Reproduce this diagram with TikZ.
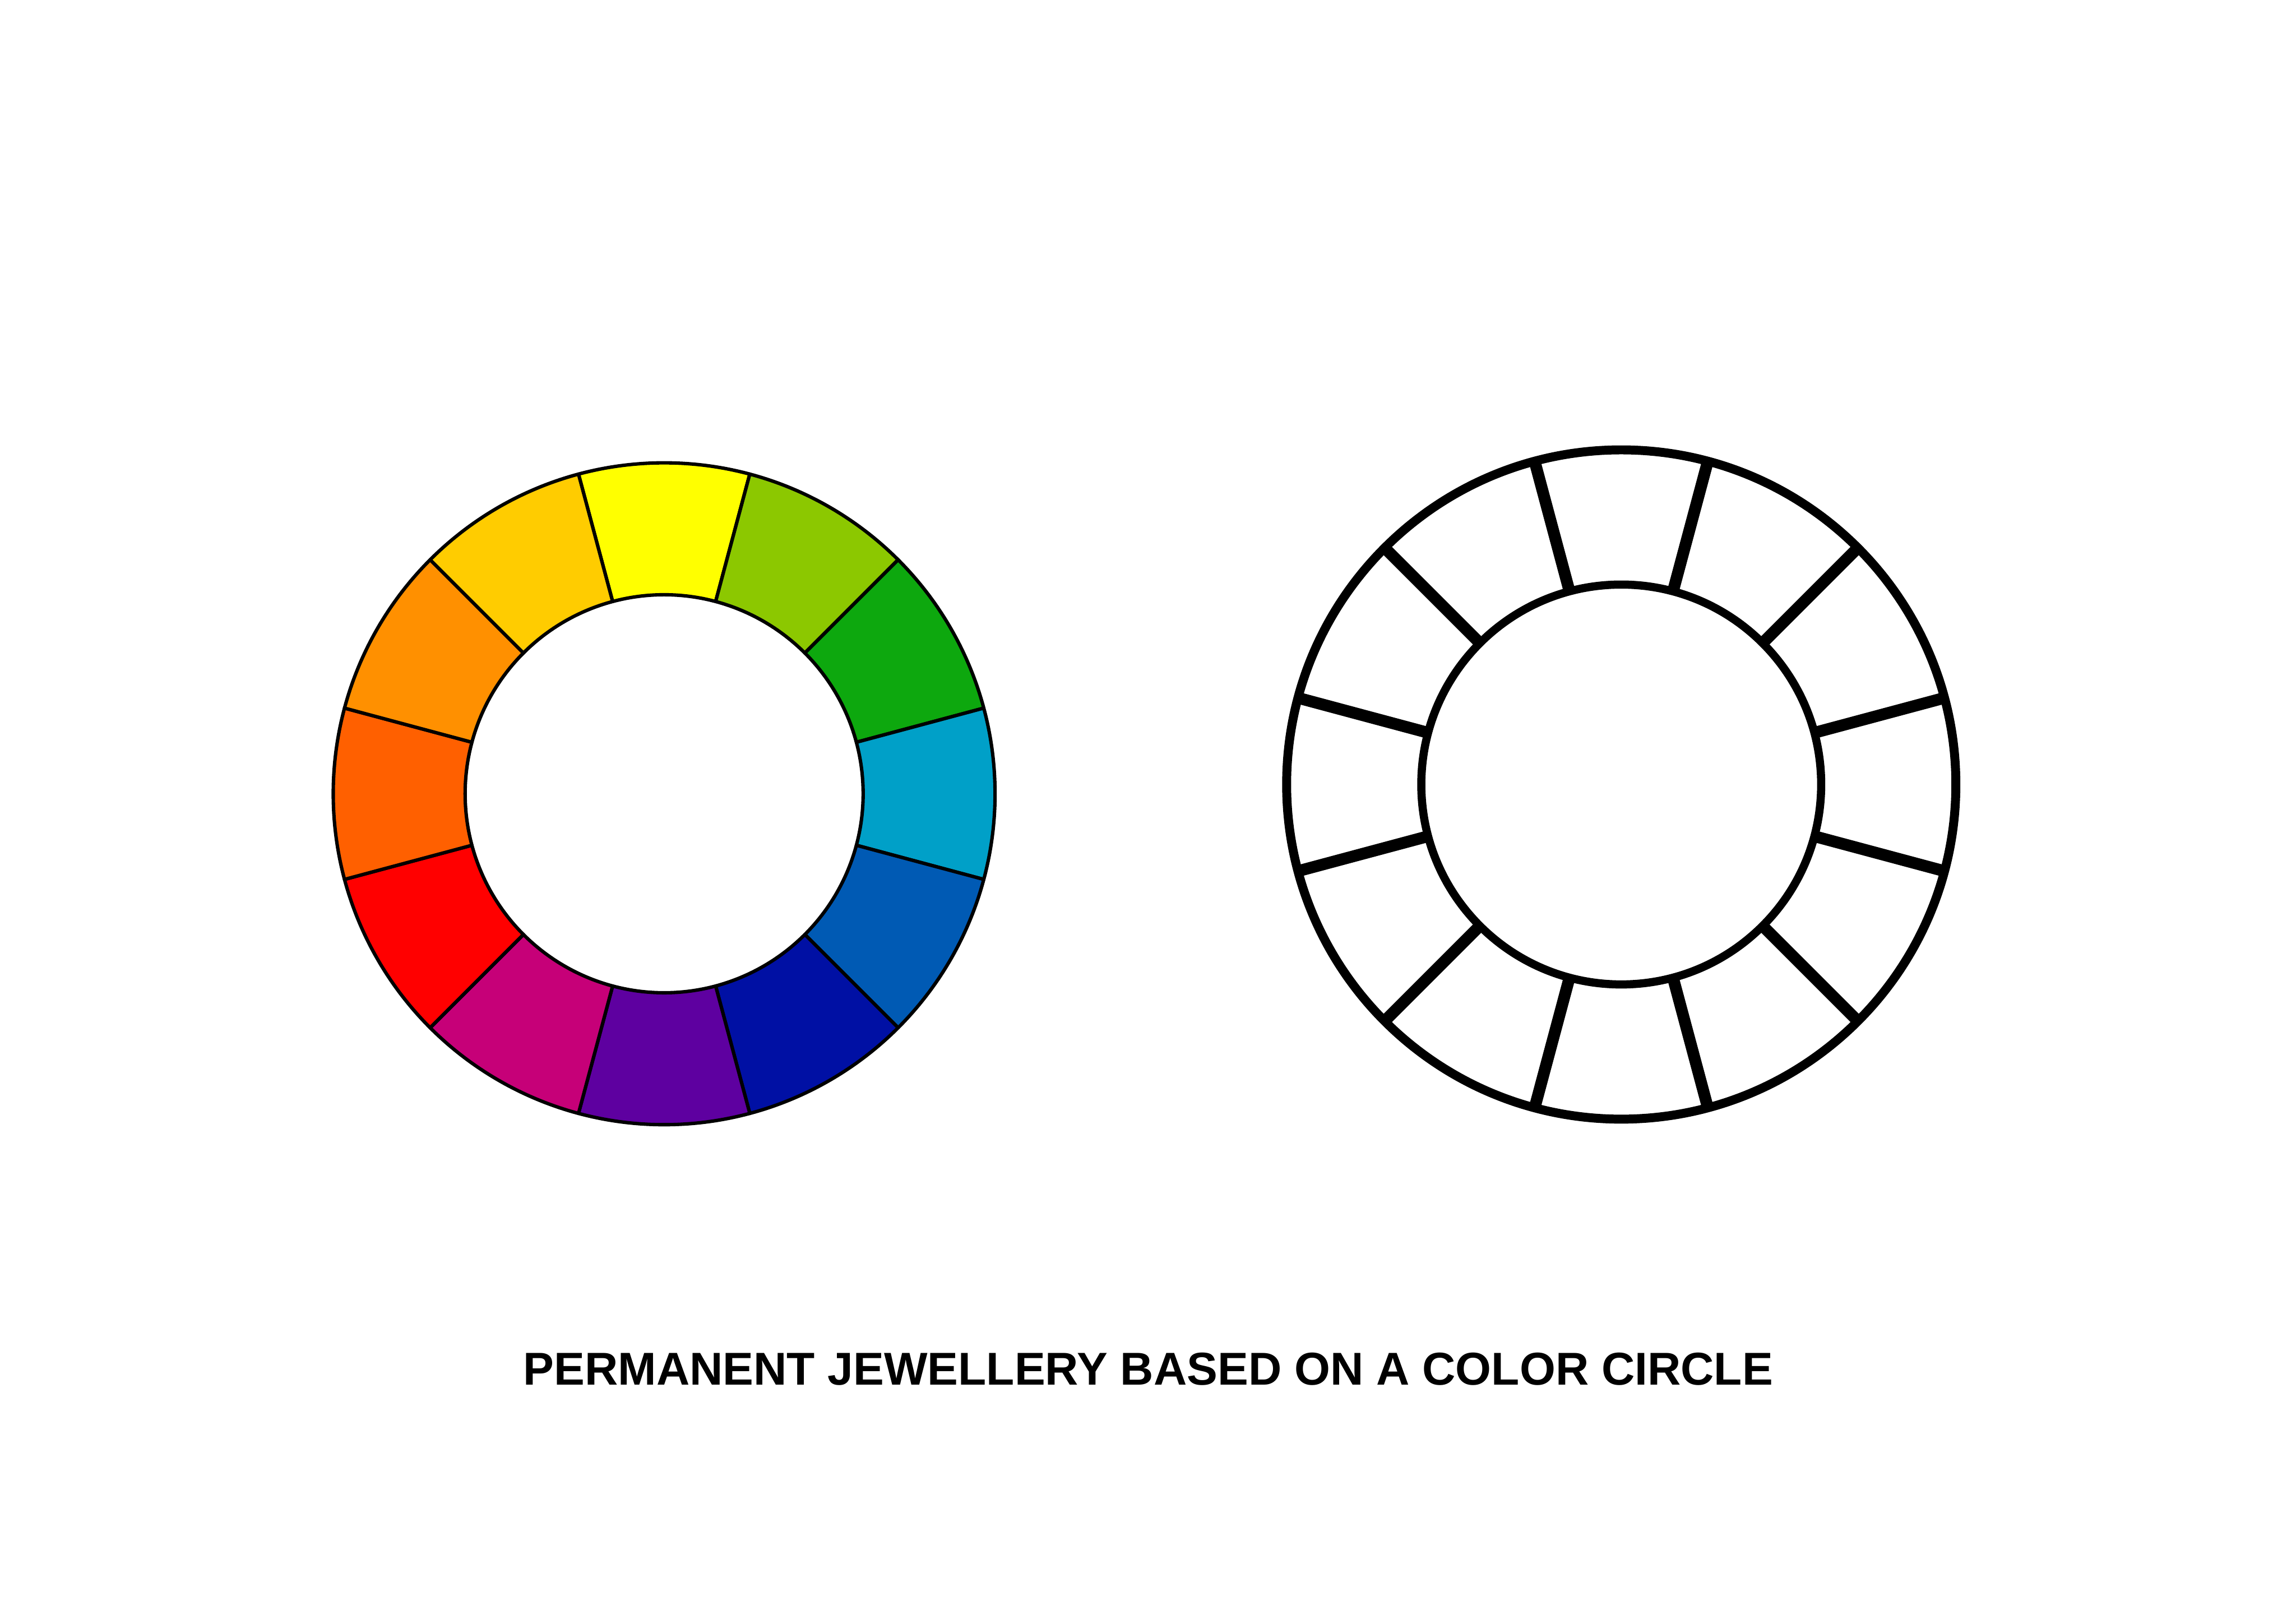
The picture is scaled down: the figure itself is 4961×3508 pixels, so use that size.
\documentclass[tikz,border=0pt]{standalone}
\usepackage{fontspec}
\setmainfont{Liberation Sans}
\definecolor{cY}{HTML}{FFFF00}
\definecolor{cYG}{HTML}{8CC800}
\definecolor{cG}{HTML}{0DA80E}
\definecolor{cC}{HTML}{00A0C8}
\definecolor{cB}{HTML}{005AB4}
\definecolor{cDB}{HTML}{0010A4}
\definecolor{cV}{HTML}{5E00A0}
\definecolor{cM}{HTML}{C60078}
\definecolor{cR}{HTML}{FF0000}
\definecolor{cRO}{HTML}{FF6000}
\definecolor{cO}{HTML}{FF9000}
\definecolor{cYO}{HTML}{FFCC00}
\begin{document}
\begin{tikzpicture}[x=0.01cm,y=0.01cm,
  segline/.style={draw=black,line width=2.1pt},
  rimline/.style={draw=black,line width=5.5pt},
  innerline/.style={draw=black,line width=5pt},
  spokeline/.style={draw=black,line width=7.2pt},
  titletext/.style={font=\bfseries\fontsize{28.3}{34}\selectfont,inner sep=0pt}]
\fill[white] (0,0) rectangle (4961,3508);
\useasboundingbox (0,0) rectangle (4961,3508);
% coloured wheel
\begin{scope}[shift={(1435,1793)}]
\foreach \a/\c in {90/cY,60/cYG,30/cG,0/cC,-30/cB,-60/cDB,-90/cV,-120/cM,-150/cR,180/cRO,150/cO,120/cYO}{
  \filldraw[fill=\c,segline,line join=round] (\a-15:715) arc[start angle=\a-15,end angle=\a+15,radius=715]
     -- (\a+15:430) arc[start angle=\a+15,end angle=\a-15,radius=430] -- cycle;
}
\end{scope}
% outline wheel
\begin{scope}[shift={(3503,1813)}]
\foreach \a in {15,45,...,345}{
  \draw[spokeline] (\a:432) -- (\a:723);
}
\draw[rimline] (0,0) circle[radius=723];
\draw[innerline] (0,0) circle[radius=432];
\end{scope}
\node[titletext] (title) at (2481,550) {PERMANENT JEWELLERY BASED ON A COLOR CIRCLE};
\end{tikzpicture}
\end{document}
